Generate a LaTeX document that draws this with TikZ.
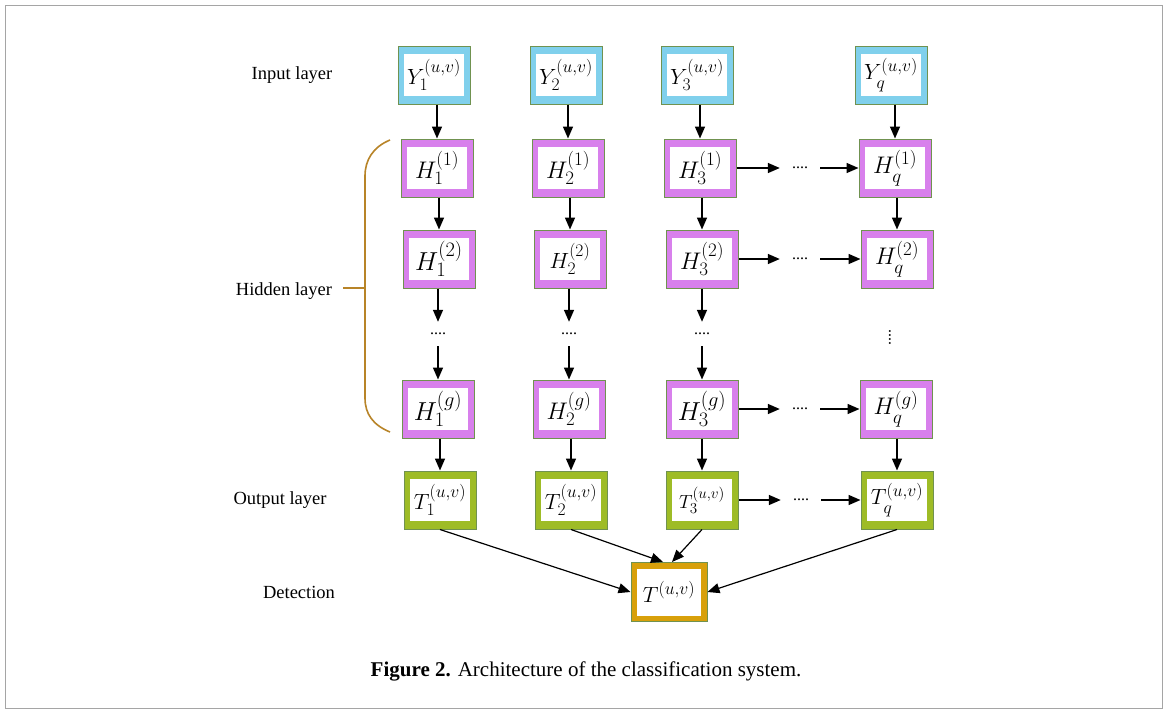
\RequirePackage{fix-cm}
\documentclass[tikz,border=0pt]{standalone}
\usepackage{fontspec}
\setmainfont{Liberation Serif}
\usetikzlibrary{arrows.meta,calc}

% larger script ratio for the cell labels
\DeclareMathSizes{19}{19}{15.2}{11}
\DeclareMathSizes{22}{22}{17.6}{13}
\DeclareMathSizes{24}{24}{19}{14}
\DeclareMathSizes{26}{26}{20.5}{15}

\definecolor{inblue}{RGB}{128,208,236}
\definecolor{hidviolet}{RGB}{216,128,236}
\definecolor{outgreen}{RGB}{158,188,38}
\definecolor{detgold}{RGB}{216,160,10}
\definecolor{edgegreen}{RGB}{112,146,80}
\definecolor{bracebrown}{RGB}{184,132,40}
\definecolor{framegray}{RGB}{165,165,165}

\newcommand{\cellsize}[1]{\fontsize{#1}{#1}\selectfont}
% subscript q set a little lower so it clears the superscript
\newcommand{\qsub}{\raisebox{-3pt}{$\scriptstyle q$}}

\tikzset{
  cell/.style={draw=edgegreen, line width=1pt, fill=#1,
    minimum width=72pt, minimum height=58pt, inner sep=0pt,
    font=\cellsize{22},
    path picture={\fill[white]
      ([shift={(6pt,8pt)}]path picture bounding box.south west) rectangle
      ([shift={(-6pt,-8pt)}]path picture bounding box.north east);}},
  hcell/.style={cell=hidviolet, font=\cellsize{24}},
  detcell/.style={draw=edgegreen, line width=1pt, fill=detgold,
    minimum width=76pt, minimum height=59pt, inner sep=0pt,
    font=\cellsize{22},
    path picture={\fill[white]
      ([shift={(6pt,6pt)}]path picture bounding box.south west) rectangle
      ([shift={(-6pt,-6pt)}]path picture bounding box.north east);}},
  arr/.style={-{Triangle[length=12pt,width=10pt]}, line width=1.5pt, black},
  lab/.style={font=\fontsize{18.5}{18.5}\selectfont, inner sep=0pt},
  hdots/.style={font=\fontsize{16}{16}\selectfont, inner sep=0pt,
    minimum width=40pt, minimum height=10pt},
  vdotsnode/.style={font=\fontsize{16}{16}\selectfont, inner sep=0pt,
    minimum height=24pt, minimum width=10pt},
  brace/.style={draw=bracebrown, line width=1.6pt},
}

\begin{document}
\begin{tikzpicture}[x=1pt,y=-1pt]
  \useasboundingbox (0,0) rectangle (1167,713);
  \fill[white] (0,0) rectangle (1167,713);
  \draw[framegray, line width=1pt] (5,5) rectangle (1162,708);

  % layer labels
  \node[lab] (lin)  at (292,75)  {Input layer};
  \node[lab] (lhid) at (284,291) {Hidden layer};
  \node[lab] (lout) at (280,500) {Output layer};
  \node[lab] (ldet) at (299,592) {Detection};

  % input layer
  \node[cell=inblue] (y-1) at (434,75) {$Y_{1}^{(u,v)}$};
  \node[cell=inblue] (y-2) at (566,75) {$Y_{2}^{(u,v)}$};
  \node[cell=inblue] (y-3) at (697,75) {$Y_{3}^{(u,v)}$};
  \node[cell=inblue] (y-q) at (891,75) {$Y_{\qsub}^{(u,v)}$};

  % hidden layer, first row
  \node[hcell] (ha-1) at (437,168) {$H_{1}^{(1)}$};
  \node[hcell] (ha-2) at (568,168) {$H_{2}^{(1)}$};
  \node[hcell] (ha-3) at (700,168) {$H_{3}^{(1)}$};
  \node[hcell] (ha-q) at (895,168) {$H_{\qsub}^{(1)}$};

  % hidden layer, second row
  \node[hcell, font=\cellsize{26}] (hb-1) at (439,259) {$H_{1}^{(2)}$};
  \node[hcell, font=\cellsize{22}] (hb-2) at (570,259) {$H_{2}^{(2)}$};
  \node[hcell] (hb-3) at (702,259) {$H_{3}^{(2)}$};
  \node[hcell] (hb-q) at (897,259) {$H_{\qsub}^{(2)}$};

  % hidden layer, last row
  \node[hcell, font=\cellsize{26}] (hg-1) at (438,409) {$H_{1}^{(g)}$};
  \node[hcell] (hg-2) at (569,409) {$H_{2}^{(g)}$};
  \node[hcell, font=\cellsize{26}] (hg-3) at (702,409) {$H_{3}^{(g)}$};
  \node[hcell] (hg-q) at (896,409) {$H_{\qsub}^{(g)}$};

  % output layer
  \node[cell=outgreen] (t-1) at (440,500) {$T_{1}^{(u,v)}$};
  \node[cell=outgreen] (t-2) at (571,500) {$T_{2}^{(u,v)}$};
  \node[cell=outgreen, font=\cellsize{19}] (t-3) at (702,500) {$T_{3}^{(u,v)}$};
  \node[cell=outgreen] (t-q) at (897,500) {$T_{\qsub}^{(u,v)}$};

  % detection
  \node[detcell] (det) at (669,592) {$T^{(u,v)}$};

  % elided hidden rows
  \node[vdotsnode] (m-1) at (438,334) {....};
  \node[vdotsnode] (m-2) at (569,334) {....};
  \node[vdotsnode] (m-3) at (702,334) {....};
  \node[vdotsnode, rotate=90] (m-q) at (890,337) {....};

  % elided columns
  \node[hdots] (da) at (800,168) {....};
  \node[hdots] (db) at (800,259) {....};
  \node[hdots] (dg) at (800,409) {....};
  \node[hdots] (dt) at (801,500) {....};

  % vertical flow
  \foreach \c in {1,2,3,q}{
    \draw[arr] (y-\c.south -| ha-\c.north) -- (ha-\c.north);
    \draw[arr] (ha-\c.south -| hb-\c.north) -- (hb-\c.north);
    \draw[arr] (hg-\c.south -| t-\c.north) -- (t-\c.north);
  }
  \foreach \c in {1,2,3}{
    \draw[arr] (hb-\c.south -| m-\c.north) -- (m-\c.north);
    \draw[arr] (m-\c.south -| hg-\c.north) -- (hg-\c.north);
  }

  % horizontal flow towards the last column
  \draw[arr] (ha-3.east) -- (da.west);
  \draw[arr] (da.east) -- (ha-q.west);
  \draw[arr] (hb-3.east) -- (db.west);
  \draw[arr] (db.east) -- (hb-q.west);
  \draw[arr] (hg-3.east) -- (dg.west);
  \draw[arr] (dg.east) -- (hg-q.west);
  \draw[arr] (t-3.east) -- (dt.west);
  \draw[arr] (dt.east) -- (t-q.west);

  % outputs into detection
  \draw[arr, line width=1.2pt] (t-1.south) -- (det.west);
  \draw[arr, line width=1.2pt] (t-2.south) -- ([xshift=-6pt]det.north);
  \draw[arr, line width=1.2pt] (t-3.south) -- ([xshift=3pt]det.north);
  \draw[arr, line width=1.2pt] (t-q.south) -- (det.east);

  % brace grouping the hidden layer
  \draw[brace] (390,140) .. controls (373,147) and (365,160) .. (365,176)
               -- (365,398) .. controls (365,414) and (373,425) .. (390,432);
  \draw[brace] (365,288) -- (343,288);

  % caption
  \node[font=\fontsize{21}{21}\selectfont, inner sep=0pt] (cap) at (586,671)
    {\textbf{Figure 2.} Architecture of the classification system.};
\end{tikzpicture}
\end{document}
